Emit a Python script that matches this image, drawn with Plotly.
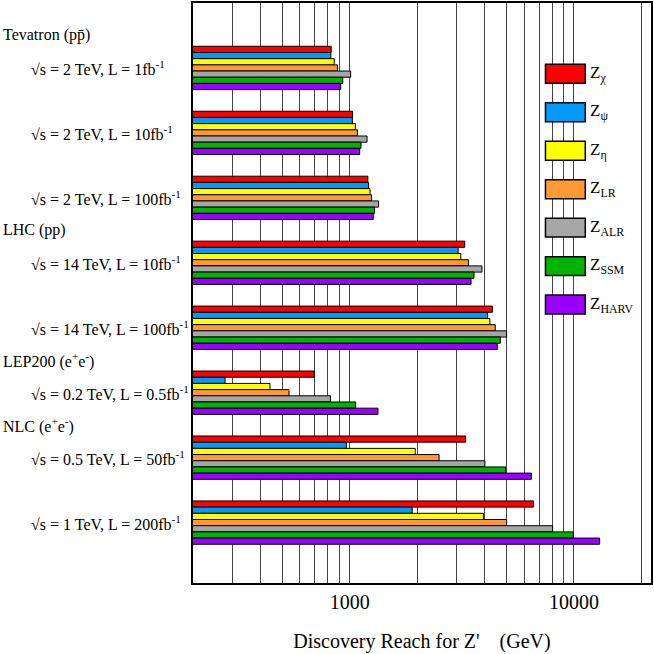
import plotly.graph_objects as go

# Z' models (series) and their colours
models = ["χ", "ψ", "η", "LR", "ALR", "SSM", "HARV"]
colors = ["#ff0000", "#0099ff", "#ffff00", "#ff9933", "#a6a6a6", "#00b300", "#9900ff"]

# collider scenarios, top to bottom
scenarios = [
    "√s = 2 TeV, L = 1fb<sup>-1</sup>",
    "√s = 2 TeV, L = 10fb<sup>-1</sup>",
    "√s = 2 TeV, L = 100fb<sup>-1</sup>",
    "√s = 14 TeV, L = 10fb<sup>-1</sup>",
    "√s = 14 TeV, L = 100fb<sup>-1</sup>",
    "√s = 0.2 TeV, L = 0.5fb<sup>-1</sup>",
    "√s = 0.5 TeV, L = 50fb<sup>-1</sup>",
    "√s = 1 TeV, L = 200fb<sup>-1</sup>",
]
positions = [1, 2, 3, 4, 5, 6, 7, 8]

# machine headers and the scenario they sit above
machines = ["Tevatron (pp\u0304)", "LHC (pp)", "LEP200 (e<sup>+</sup>e<sup>-</sup>)", "NLC (e<sup>+</sup>e<sup>-</sup>)"]
machine_pos = [1, 4, 6, 7]

# discovery reach in GeV, one list per model (order = scenarios)
reach = {
    "χ":    [827, 1030, 1205, 3260, 4330, 695, 3290, 6600],
    "ψ":    [824, 1028, 1214, 3045, 4125, 278, 967, 1900],
    "η":    [853, 1060, 1232, 3130, 4220, 441, 1960, 3950],
    "LR":   [882, 1082, 1252, 3385, 4460, 536, 2505, 5010],
    "ALR":  [1010, 1195, 1345, 3890, 5010, 821, 4010, 8040],
    "SSM":  [931, 1123, 1291, 3585, 4695, 1063, 4955, 9935],
    "HARV": [912, 1108, 1274, 3478, 4555, 1337, 6465, 13030],
}

tick_vals = [1000, 10000]
grid_vals = [300, 400, 500, 600, 700, 800, 900,
             2000, 3000, 4000, 5000, 6000, 7000, 8000, 9000, 20000]

FONT = "Liberation Serif"
L, R, T, B = 193, 1, 1, 71
W = H = 654
pw, ph = W - L - R, H - T - B

fig = go.Figure()
for m, c in zip(models, colors):
    fig.add_trace(go.Bar(
        x=reach[m], y=positions, orientation="h", name="Z" + m,
        marker=dict(color=c, line=dict(color="black", width=1)),
        showlegend=False,
    ))

annotations = []
for txt, p in zip(scenarios, positions):
    annotations.append(dict(
        text=txt, x=(28 - L) / pw, xref="paper", y=p, yref="y",
        xanchor="left", yanchor="middle", showarrow=False,
        font=dict(family=FONT, size=16, color="black"),
    ))
for txt, p in zip(machines, machine_pos):
    annotations.append(dict(
        text=txt, x=-L / pw, xref="paper", y=p - 0.5, yref="y",
        xanchor="left", yanchor="middle", showarrow=False,
        font=dict(family=FONT, size=16, color="black"),
    ))

# hand-drawn style legend on the right
shapes = []
for i, (m, c) in enumerate(zip(models, colors)):
    yc = 72 + i * 38.6
    y0 = 1 - (yc + 9.5 - T) / ph
    y1 = 1 - (yc - 9.5 - T) / ph
    shapes.append(dict(
        type="rect", xref="paper", yref="paper",
        x0=(547 - L) / pw, x1=(587 - L) / pw, y0=y0, y1=y1,
        fillcolor=c, line=dict(color="black", width=1.5), layer="above",
    ))
    annotations.append(dict(
        text="Z<sub>" + m + "</sub>", x=(590 - L) / pw, xref="paper",
        y=1 - (yc - T) / ph, yref="paper", xanchor="left", yanchor="middle",
        showarrow=False, font=dict(family=FONT, size=17, color="black"),
    ))

fig.update_layout(
    width=W, height=H,
    margin=dict(l=L, r=R, t=T, b=B),
    paper_bgcolor="white", plot_bgcolor="white",
    barmode="group", bargap=0.333, bargroupgap=0,
    font=dict(family=FONT, color="black"),
    annotations=annotations, shapes=shapes,
)
fig.update_xaxes(
    type="log", range=[2.30103, 4.344],
    tickvals=tick_vals, ticktext=["1000", "10000"],
    tickfont=dict(family=FONT, size=20),
    showgrid=True, gridcolor="#444", gridwidth=1,
    minor=dict(tickvals=grid_vals, showgrid=True, gridcolor="#444", gridwidth=1, ticks=""),
    showline=True, linecolor="black", linewidth=2, mirror=True,
    ticks="", zeroline=False,
    title=dict(text="Discovery Reach for Z'\u00a0\u00a0\u00a0\u00a0(GeV)",
               font=dict(family=FONT, size=20), standoff=22),
)
fig.update_yaxes(
    range=[8.93, 0], showticklabels=False, showgrid=False, ticks="",
    showline=True, linecolor="black", linewidth=2, mirror=True, zeroline=False,
)

fig.write_html("out.html", config={"displayModeBar": False},
               post_script="document.body.style.margin='0';")
